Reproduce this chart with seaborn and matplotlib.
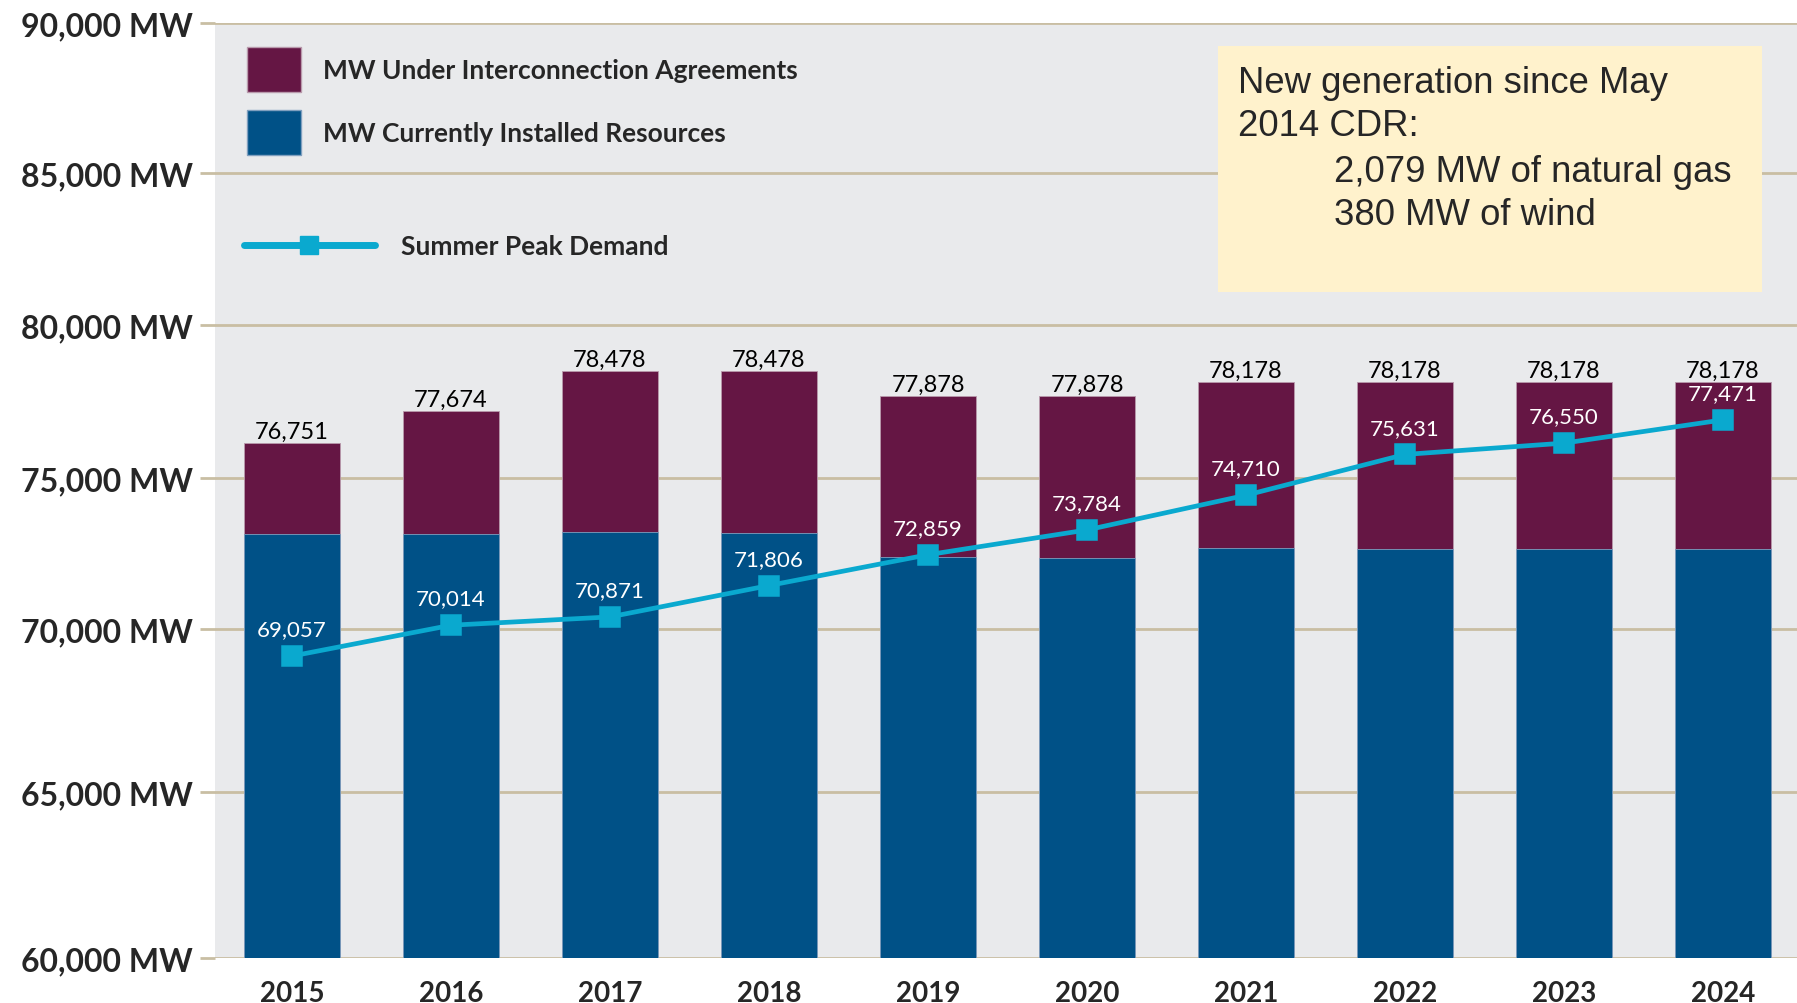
import numpy as np
import pandas as pd
import matplotlib
matplotlib.use('Agg')
import matplotlib.pyplot as plt
from matplotlib.patches import Patch, Rectangle
from matplotlib.lines import Line2D
import seaborn as sns

# datos (alturas; etiquetas tal como aparecen)
years = ['2015', '2016', '2017', '2018', '2019', '2020', '2021', '2022', '2023', '2024']
installed = [73140, 73140, 73210, 73180, 72400, 72340, 72690, 72650, 72640, 72640]
total_mw = [76140, 77180, 78490, 78490, 77670, 77670, 78140, 78140, 78140, 78130]
peak_demand = [69170, 70125, 70400, 71440, 72460, 73280, 74430, 75770, 76140, 76900]
total_labels = ['76,751', '77,674', '78,478', '78,478', '77,878', '77,878',
                '78,178', '78,178', '78,178', '78,178']
peak_labels = ['69,057', '70,014', '70,871', '71,806', '72,859', '73,784',
               '74,710', '75,631', '76,550', '77,471']

y_ticks = [60000, 65000, 70000, 75000, 80000, 85000, 90000]
legend_labels = ['MW Under Interconnection Agreements', 'MW Currently Installed Resources',
                 'Summer Peak Demand']
note_head = 'New generation since May\n2014 CDR:'
note_items = '2,079 MW of natural gas\n380 MW of wind'

maroon = '#651644'
navy = '#005187'
cyan = '#0aa9cf'
grid_col = '#c9bea3'

df = pd.DataFrame({'Year': years, 'Installed': installed, 'Total': total_mw, 'Peak': peak_demand})

sns.set_theme(style='white')
plt.rcParams['font.family'] = ['Lato', 'DejaVu Sans']

fig = plt.figure(figsize=(17.97, 10.04), dpi=100)
ax = fig.add_axes([215 / 1797, 1 - 959 / 1004, 1 - 215 / 1797, (959 - 24) / 1004])
ax.set_facecolor('#e9eaec')

# el eje original no es lineal: los tramos bajos (60k-70k) son más altos
scale_vals = [60000, 65000, 70000, 75000, 80000, 85000, 90000]
scale_pos = [0, 166, 329, 480, 633, 785, 935]


def fwd(y):
    return np.interp(np.asarray(y, dtype=float), scale_vals, scale_pos)


def inv(y):
    return np.interp(np.asarray(y, dtype=float), scale_pos, scale_vals)


ax.set_yscale('function', functions=(fwd, inv))

sns.barplot(data=df, x='Year', y='Total', color=maroon, saturation=1, width=0.6,
            edgecolor='#b99aac', linewidth=0.6, ax=ax)
sns.barplot(data=df, x='Year', y='Installed', color=navy, saturation=1, width=0.6,
            edgecolor='#7f9fbf', linewidth=0.6, ax=ax)
sns.pointplot(data=df, x='Year', y='Peak', color=cyan, markers='s', markersize=13,
              linewidth=3.4, ax=ax)

ax.bar_label(ax.containers[0], labels=total_labels, padding=1, fontsize=17, color='black')

for i, (v, lab) in enumerate(zip(peak_demand, peak_labels)):
    ax.annotate(lab, (i, v), xytext=(0, 12), textcoords='offset points',
                ha='center', va='bottom', fontsize=16, color='white')

ax.set_ylim(60000, 90000)
ax.set_xlim(-0.484, 9.465)
ax.set_yticks(y_ticks)
ax.set_yticklabels([f'{v:,} MW' for v in y_ticks], fontsize=23, fontweight='bold')
ax.tick_params(axis='y', length=10.8, width=2, color=grid_col, pad=5, left=True)
ax.tick_params(axis='x', length=0, pad=16, labelsize=20)
for lbl in ax.get_xticklabels():
    lbl.set_fontweight('bold')
ax.set_xlabel('')
ax.set_ylabel('')
ax.grid(axis='y', color=grid_col, linewidth=2)
ax.grid(axis='x', visible=False)
ax.set_axisbelow(True)
for s in ax.spines.values():
    s.set_visible(False)

# leyenda
h1 = [Patch(facecolor=maroon, edgecolor='#b99aac'), Patch(facecolor=navy, edgecolor='#7f9fbf')]
leg1 = ax.legend(h1, legend_labels[:2], loc='upper left', bbox_to_anchor=(247 / 1797, 1 - 48 / 1004),
                 bbox_transform=fig.transFigure, frameon=False, borderpad=0, borderaxespad=0,
                 handlelength=2.05, handleheight=2.22, handletextpad=0.83, labelspacing=0.7,
                 prop={'size': 19, 'weight': 'bold'})
ax.add_artist(leg1)
h2 = [Line2D([], [], color=cyan, lw=5, marker='s', markersize=13, solid_capstyle='round')]
ax.legend(h2, legend_labels[2:], loc='center left', bbox_to_anchor=(244 / 1797, 1 - 247 / 1004),
          bbox_transform=fig.transFigure, frameon=False, borderpad=0, borderaxespad=0,
          handlelength=4.96, handletextpad=1.0, prop={'size': 19, 'weight': 'bold'})

# recuadro de nota
fig.add_artist(Rectangle((1218 / 1797, 1 - 293 / 1004), (1762 - 1218) / 1797, (293 - 47) / 1004,
                         transform=fig.transFigure, facecolor='#fff2cc', edgecolor='none', zorder=5))
fig.text(1238 / 1797, 1 - 66 / 1004, note_head, fontsize=26.3, family='Liberation Sans',
         va='top', ha='left', linespacing=1.31, zorder=6)
fig.text(1334 / 1797, 1 - 155 / 1004, note_items, fontsize=26.3, family='Liberation Sans',
         va='top', ha='left', linespacing=1.31, zorder=6)

plt.savefig('out.png', dpi=100)
